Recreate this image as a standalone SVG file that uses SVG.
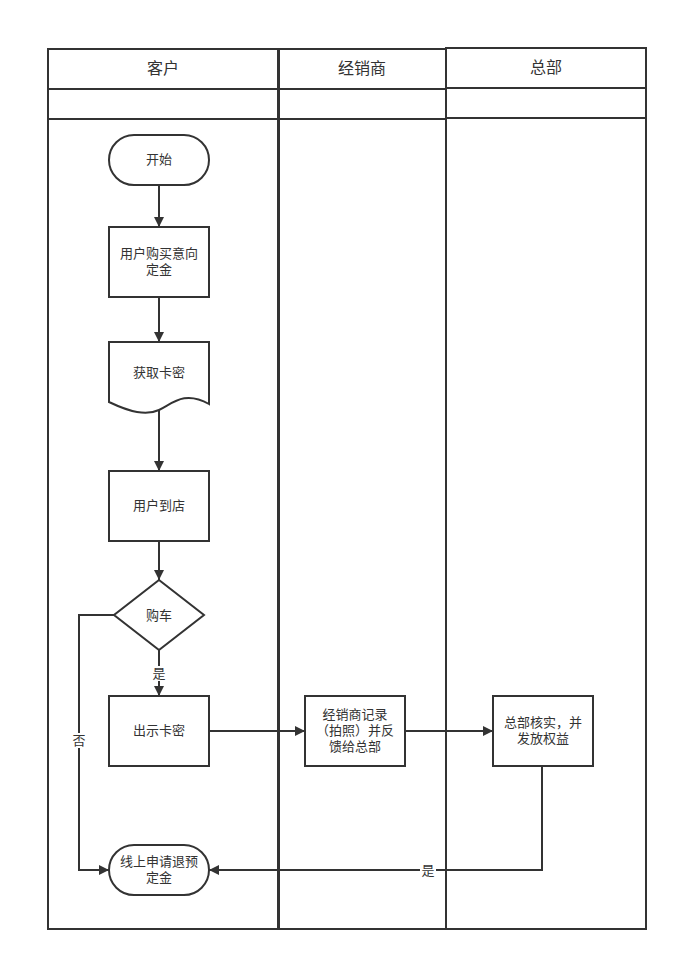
<svg xmlns="http://www.w3.org/2000/svg" width="678" height="962" viewBox="0 0 678 962">
<defs>
<marker id="arr" viewBox="0 0 10 10" refX="10" refY="5" markerWidth="10" markerHeight="10" markerUnits="userSpaceOnUse" orient="auto">
<path d="M0,0 L10,5 L0,10 z" fill="#333"/>
</marker>
<style>
.lane{fill:none;stroke:#333;stroke-width:2}
.shape{fill:#fff;stroke:#333;stroke-width:2}
.t{font-family:"Liberation Sans","Noto Sans CJK SC",sans-serif;font-size:13px;fill:#333;text-anchor:middle}
.h{font-family:"Liberation Sans","Noto Sans CJK SC",sans-serif;font-size:16px;fill:#333;text-anchor:middle}
.c{fill:none;stroke:#333;stroke-width:2}
.lbl{fill:#fff}
</style>
</defs>
<rect width="678" height="962" fill="#fff"/>
<g id="lanes">
<rect class="lane" x="48" y="49" width="230" height="880"/>
<line class="lane" x1="48" y1="89" x2="278" y2="89"/>
<line class="lane" x1="48" y1="119" x2="278" y2="119"/>
<rect class="lane" x="279" y="49" width="167" height="880"/>
<line class="lane" x1="279" y1="89" x2="446" y2="89"/>
<line class="lane" x1="279" y1="119" x2="446" y2="119"/>
<rect class="lane" x="446" y="48" width="200" height="881"/>
<line class="lane" x1="446" y1="88" x2="646" y2="88"/>
<line class="lane" x1="446" y1="118" x2="646" y2="118"/>
<text class="h" x="163" y="74">客户</text>
<text class="h" x="362" y="74">经销商</text>
<text class="h" x="546" y="73">总部</text>
</g>
<g id="connectors">
<line class="c" x1="159" y1="185" x2="159" y2="227" marker-end="url(#arr)"/>
<line class="c" x1="159" y1="297" x2="159" y2="342" marker-end="url(#arr)"/>
<line class="c" x1="159" y1="404" x2="159" y2="471" marker-end="url(#arr)"/>
<line class="c" x1="159" y1="541" x2="159" y2="580" marker-end="url(#arr)"/>
<line class="c" x1="159" y1="650" x2="159" y2="696" marker-end="url(#arr)"/>
<rect class="lbl" x="151" y="666" width="16" height="15"/>
<text class="t" x="159" y="678">是</text>
<polyline class="c" points="114,615 79,615 79,870 109,870" marker-end="url(#arr)"/>
<rect class="lbl" x="71" y="733" width="16" height="15"/>
<text class="t" x="79" y="745">否</text>
<line class="c" x1="209" y1="731" x2="305" y2="731" marker-end="url(#arr)"/>
<line class="c" x1="405" y1="731" x2="493" y2="731" marker-end="url(#arr)"/>
<polyline class="c" points="542,766 542,870 209,870" marker-end="url(#arr)"/>
<rect class="lbl" x="420" y="863" width="16" height="15"/>
<text class="t" x="428" y="875">是</text>
</g>
<g id="start">
<rect class="shape" x="109" y="135" width="100" height="50" rx="25"/>
<text class="t" x="159" y="164">开始</text>
</g>
<g id="buy">
<rect class="shape" x="109" y="227" width="100" height="70"/>
<text class="t" x="159" y="258">用户购买意向</text>
<text class="t" x="159" y="274">定金</text>
</g>
<g id="getcode">
<path class="shape" d="M109,342 H209 V404 C184,390 172,404 159,410 C146,416 130,412 109,402 Z"/>
<text class="t" x="159" y="377">获取卡密</text>
</g>
<g id="arrive">
<rect class="shape" x="109" y="471" width="100" height="70"/>
<text class="t" x="159" y="510">用户到店</text>
</g>
<g id="decide">
<polygon class="shape" points="159,580 204,615 159,650 114,615"/>
<text class="t" x="159" y="620">购车</text>
</g>
<g id="show">
<rect class="shape" x="109" y="696" width="100" height="70"/>
<text class="t" x="159" y="735">出示卡密</text>
</g>
<g id="refund">
<rect class="shape" x="109" y="845" width="100" height="50" rx="25"/>
<text class="t" x="159" y="866">线上申请退预</text>
<text class="t" x="159" y="882">定金</text>
</g>
<g id="dealer">
<rect class="shape" x="305" y="696" width="100" height="70"/>
<text class="t" x="355" y="719">经销商记录</text>
<text class="t" x="355" y="735">（拍照）并反</text>
<text class="t" x="355" y="751">馈给总部</text>
</g>
<g id="hq">
<rect class="shape" x="493" y="696" width="100" height="70"/>
<text class="t" x="543" y="727">总部核实，并</text>
<text class="t" x="543" y="743">发放权益</text>
</g>
</svg>
